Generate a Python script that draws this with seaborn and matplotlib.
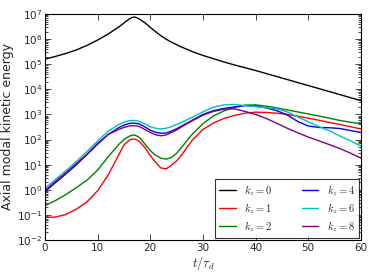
import numpy as np
import matplotlib
matplotlib.use("Agg")
import matplotlib.pyplot as plt
import seaborn as sns

# time axis, t / tau_d
t = [0, 2, 4, 6, 8, 10, 12, 14, 15, 16, 16.5, 17, 17.5, 18, 19, 20, 21, 22, 23, 24, 25, 26,
     28, 30, 32, 34, 36, 38, 40, 42, 44, 46, 48, 50, 52, 54, 56, 58, 60]

# log10 of axial modal kinetic energy
log_kz0 = [5.20, 5.31, 5.43, 5.57, 5.75, 5.96, 6.20, 6.48, 6.64, 6.80, 6.86, 6.88, 6.85, 6.79,
           6.65, 6.47, 6.30, 6.14, 6.00, 5.88, 5.78, 5.68, 5.50, 5.35, 5.22, 5.09, 4.97, 4.86,
           4.75, 4.63, 4.51, 4.39, 4.27, 4.15, 4.03, 3.91, 3.79, 3.67, 3.55]
log_kz1 = [-1.10, -1.09, -0.98, -0.77, -0.48, -0.04, 0.58, 1.38, 1.78, 1.97, 2.01, 2.02, 1.98, 1.91,
           1.68, 1.36, 1.10, 0.87, 0.83, 0.97, 1.15, 1.40, 1.98, 2.40, 2.66, 2.84, 2.96, 3.05,
           3.09, 3.08, 3.05, 3.00, 2.93, 2.85, 2.77, 2.68, 2.60, 2.51, 2.42]
log_kz2 = [-0.64, -0.43, -0.19, 0.09, 0.38, 0.78, 1.31, 1.80, 2.00, 2.13, 2.17, 2.18, 2.14, 2.07,
           1.82, 1.56, 1.38, 1.26, 1.22, 1.28, 1.45, 1.70, 2.22, 2.63, 2.94, 3.14, 3.28, 3.37,
           3.38, 3.33, 3.26, 3.18, 3.10, 3.02, 2.94, 2.85, 2.76, 2.69, 2.63]
log_kz4 = [-0.08, 0.28, 0.63, 1.00, 1.40, 1.81, 2.20, 2.47, 2.57, 2.64, 2.65, 2.65, 2.64, 2.61,
           2.50, 2.37, 2.29, 2.25, 2.26, 2.33, 2.43, 2.54, 2.77, 3.00, 3.15, 3.24, 3.30, 3.35,
           3.33, 3.26, 3.15, 2.98, 2.72, 2.54, 2.48, 2.47, 2.44, 2.36, 2.28]
log_kz6 = [0.05, 0.41, 0.76, 1.13, 1.53, 1.94, 2.33, 2.59, 2.69, 2.75, 2.76, 2.76, 2.75, 2.71,
           2.62, 2.51, 2.45, 2.42, 2.45, 2.51, 2.60, 2.69, 2.89, 3.10, 3.29, 3.38, 3.40, 3.35,
           3.31, 3.27, 3.22, 3.10, 2.90, 2.71, 2.52, 2.35, 2.14, 1.95, 1.74]
log_kz8 = [-0.03, 0.33, 0.68, 1.05, 1.42, 1.85, 2.20, 2.40, 2.48, 2.54, 2.55, 2.55, 2.54, 2.51,
           2.40, 2.28, 2.19, 2.15, 2.18, 2.28, 2.38, 2.51, 2.75, 2.97, 3.12, 3.21, 3.22, 3.12,
           3.00, 2.84, 2.65, 2.45, 2.27, 2.10, 1.95, 1.80, 1.64, 1.46, 1.26]

labels = [r'$k_z=0$', r'$k_z=1$', r'$k_z=2$', r'$k_z=4$', r'$k_z=6$', r'$k_z=8$']
colors = ['k', 'r', 'g', 'b', 'c', 'purple']
series = [log_kz0, log_kz1, log_kz2, log_kz4, log_kz6, log_kz8]

sns.set_style('ticks')
plt.rcParams['font.family'] = ['DejaVu Sans']
plt.rcParams['mathtext.fontset'] = 'cm'
plt.rcParams['xtick.direction'] = 'in'
plt.rcParams['ytick.direction'] = 'in'

fig = plt.figure(figsize=(3.74, 2.80), dpi=100)
ax = fig.add_axes([0.120, 0.143, 0.845, 0.807])

for vals, lab, col in zip(series, labels, colors):
    sns.lineplot(x=t, y=10 ** np.array(vals), color=col, label=lab, lw=1.0, ax=ax)

ax.set_yscale('log')
ax.set_xlim(0, 60)
ax.set_ylim(1e-2, 1e7)
ax.set_xticks([0, 10, 20, 30, 40, 50, 60])

ax.tick_params(which='both', top=True, right=True, labelsize=7.5, pad=2, width=0.6)
ax.tick_params(which='major', length=4)
ax.tick_params(which='minor', length=2)
for sp in ax.spines.values():
    sp.set_linewidth(0.8)
    sp.set_color('k')

ax.set_xlabel(r'$t/\tau_d$', fontsize=9, labelpad=1)
ax.set_ylabel('Axial modal kinetic energy', fontsize=9, labelpad=2)

leg = ax.legend(loc='lower right', ncol=2, fontsize=7.5, frameon=True, fancybox=False,
                handlelength=1.6, borderaxespad=0.2, columnspacing=2.8, labelspacing=0.3,
                borderpad=0.4)
leg.get_frame().set_edgecolor('k')
leg.get_frame().set_linewidth(0.8)

fig.savefig('out.png', dpi=100)
